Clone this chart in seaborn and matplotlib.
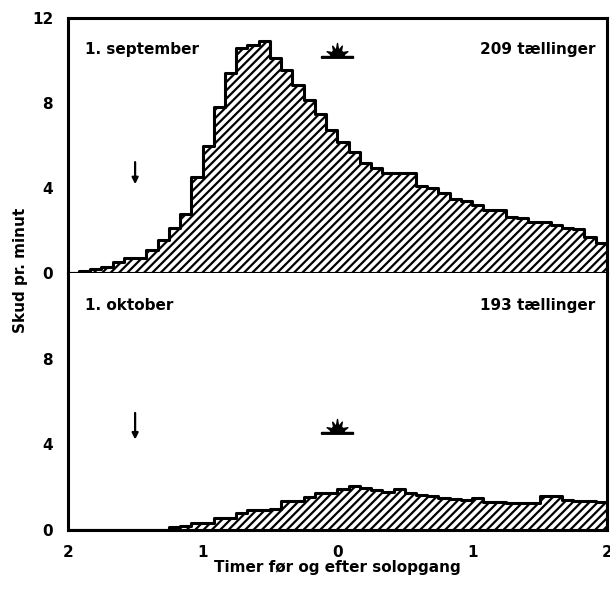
import numpy as np
import pandas as pd
import seaborn as sns
import matplotlib.pyplot as plt
from matplotlib.path import Path

# 5-minutters intervaller, fra 2 timer foer til 2 timer efter solopgang
bin_edges = list(np.arange(-120, 125, 5) / 60)
bin_mid = [(a + b) / 2 for a, b in zip(bin_edges[:-1], bin_edges[1:])]

# skud pr. minut, 1. september (209 taellinger)
sep_vals = [0, 0.1, 0.2, 0.3, 0.5, 0.7, 0.7, 1.1, 1.55, 2.1, 2.8, 4.5,
            6.0, 7.8, 9.4, 10.6, 10.75, 10.9, 10.1, 9.55, 8.85, 8.15, 7.5, 6.75,
            6.15, 5.7, 5.2, 4.95, 4.7, 4.7, 4.7, 4.1, 4.0, 3.75, 3.5, 3.4,
            3.2, 2.95, 2.95, 2.65, 2.6, 2.4, 2.4, 2.25, 2.1, 2.05, 1.7, 1.4]

# skud pr. minut, 1. oktober (193 taellinger)
okt_vals = [0, 0, 0, 0, 0, 0, 0, 0, 0, 0.15, 0.2, 0.35,
            0.35, 0.55, 0.55, 0.8, 0.95, 0.95, 1.0, 1.35, 1.35, 1.55, 1.75, 1.75,
            1.9, 2.05, 1.95, 1.85, 1.8, 1.9, 1.75, 1.65, 1.6, 1.5, 1.45, 1.4,
            1.5, 1.3, 1.3, 1.25, 1.25, 1.25, 1.6, 1.6, 1.4, 1.35, 1.35, 1.3]

panels = [("1. september", "209 tællinger", sep_vals, 10.2, 5.35, 4.05),
          ("1. oktober", "193 tællinger", okt_vals, 4.6, 5.6, 4.1)]

x_ticks = [-2, -1, 0, 1, 2]
x_ticklabels = ["2", "1", "0", "1", "2"]

sns.set_style("white")
plt.rcParams["font.family"] = ["DejaVu Sans"]
plt.rcParams["font.weight"] = "bold"
plt.rcParams["hatch.linewidth"] = 1.6
for k in ["text.color", "axes.labelcolor", "xtick.color", "ytick.color"]:
    plt.rcParams[k] = "black"

# solsymbol: halv sol med straaler over horisont
sun = [(-1.4, 0), (-1.4, -0.15), (1.4, -0.15), (1.4, 0), (0.6, 0)]
for ang, r in [(15, 0.6), (25, 1.0), (35, 0.6), (55, 0.6), (65, 1.0), (75, 0.6),
               (82, 0.6), (90, 1.15), (98, 0.6), (105, 0.6), (115, 1.0), (125, 0.6),
               (145, 0.6), (155, 1.0), (165, 0.6)]:
    a = np.deg2rad(ang)
    sun.append((r * np.cos(a), r * np.sin(a)))
sun += [(-0.6, 0), (-1.4, 0)]
sun_marker = Path(sun)

fig = plt.figure(figsize=(6.1, 5.91), dpi=100)
ax_top = fig.add_axes([0.111, 0.538, 0.884, 0.4315])
ax_bot = fig.add_axes([0.111, 0.103, 0.884, 0.435], sharex=ax_top)

for ax, (left_txt, right_txt, vals, sun_y, arr_top, arr_bot) in zip([ax_top, ax_bot], panels):
    df = pd.DataFrame({"t": bin_mid, "v": vals})
    sns.histplot(data=df, x="t", weights="v", bins=bin_edges, element="step",
                 fill=True, facecolor="white", edgecolor="black", linewidth=2.2, ax=ax)
    poly = ax.collections[-1]
    poly.set_hatch("////")
    poly.set_facecolor("white")
    poly.set_edgecolor("black")
    poly.set_alpha(1)

    ax.set_xlim(-2, 2)
    ax.set_ylim(0, 12)
    ax.set_xlabel("")
    ax.set_ylabel("")
    ax.set_yticks([2, 6, 10], minor=True)
    ax.tick_params(axis="both", which="major", direction="out", length=7, width=2.2,
                   labelsize=11, colors="black")
    ax.tick_params(axis="y", which="minor", direction="out", length=4, width=2)
    for s in ax.spines.values():
        s.set_linewidth(2.2)
        s.set_color("black")

    ax.text(0.032, 0.875, left_txt, transform=ax.transAxes, fontsize=11,
            fontweight="bold", va="center", ha="left")
    ax.text(0.978, 0.875, right_txt, transform=ax.transAxes, fontsize=11,
            fontweight="bold", va="center", ha="right")
    ax.plot([0], [sun_y], marker=sun_marker, markersize=23, color="black", linestyle="none")
    ax.annotate("", xy=(-1.5, arr_bot), xytext=(-1.5, arr_top),
                arrowprops=dict(arrowstyle="-|>", lw=1.6, color="black", mutation_scale=9))

ax_top.set_yticks([0, 4, 8, 12])
ax_top.tick_params(axis="x", labelbottom=False)
ax_bot.set_yticks([0, 4, 8])
ax_bot.spines["top"].set_visible(False)
ax_bot.set_xticks(x_ticks)
ax_bot.set_xticklabels(x_ticklabels)
ax_bot.set_xlabel("Timer før og efter solopgang", fontsize=11, fontweight="bold", labelpad=0)

fig.text(0.033, 0.543, "Skud pr. minut", rotation=90, fontsize=11, fontweight="bold",
         ha="center", va="center")

fig.savefig("out.png", dpi=100)
